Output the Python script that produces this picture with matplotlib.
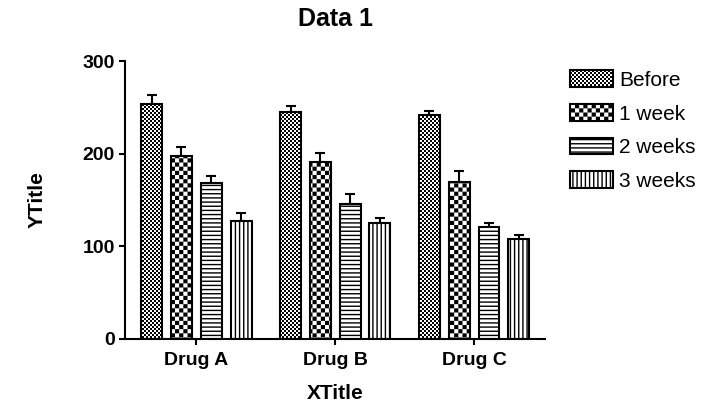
import numpy as np
import matplotlib
matplotlib.use('Agg')
import matplotlib.pyplot as plt
import matplotlib.hatch as mhatch
from matplotlib.path import Path

# data
groups = ['Drug A', 'Drug B', 'Drug C']
series = ['Before', '1 week', '2 weeks', '3 weeks']
before = [254, 245, 242]
week1 = [198, 191, 169]
week2 = [168, 146, 121]
week3 = [127, 125, 108]
before_err = [9, 6, 4]
week1_err = [9, 10, 12]
week2_err = [8, 10, 4]
week3_err = [9, 6, 4]

values = [before, week1, week2, week3]
errors = [before_err, week1_err, week2_err, week3_err]

# checkerboard hatches (matplotlib has none): fine = 'o.', coarse = 'O.'
CHECKERS = {'o.': 50, 'O.': 24}
_orig_get_path = mhatch.get_path


def checker_path(n):
    cell = 1.0 / n
    side = max(cell - 1.0 / 72, 0.002)   # stroke of hatch line adds ~1pt
    pad = (cell - side) / 2
    verts, codes = [], []
    for i in range(n):
        for j in range(n):
            if (i + j) % 2:
                continue
            x0, y0 = i * cell + pad, j * cell + pad
            verts += [(x0, y0), (x0 + side, y0), (x0 + side, y0 + side),
                      (x0, y0 + side), (x0, y0)]
            codes += [Path.MOVETO, Path.LINETO, Path.LINETO, Path.LINETO,
                      Path.CLOSEPOLY]
    return Path(verts, codes)


def get_path(pattern, density=6):
    if pattern in CHECKERS:
        return checker_path(CHECKERS[pattern])
    return _orig_get_path(pattern, density)


mhatch.get_path = get_path

plt.rcParams['font.family'] = ['Liberation Sans', 'DejaVu Sans']
plt.rcParams['hatch.linewidth'] = 1.0

hatches = ['o.', 'O.', '----', '||||']

fig = plt.figure(figsize=(7.11, 4.04), dpi=100)
ax = fig.add_axes([0.176, 0.161, 0.591, 0.688])

x = np.arange(len(groups))
width = 0.151
step = 0.2145
for i, (name, vals, errs) in enumerate(zip(series, values, errors)):
    pos = x + (i - 1.5) * step
    ax.bar(pos, vals, width, color='white', edgecolor='black', linewidth=1.5,
           hatch=hatches[i], label=name, zorder=2)
    ax.errorbar(pos, vals, yerr=[np.zeros(len(errs)), errs], fmt='none',
                ecolor='black', elinewidth=1.5, capsize=3.8, capthick=1.5,
                zorder=1)

ax.set_xlim(-0.513, 2.513)
ax.set_ylim(0, 300)
ax.set_yticks([0, 100, 200, 300])
ax.set_xticks(x)
ax.set_xticklabels(groups)
for s in ['top', 'right']:
    ax.spines[s].set_visible(False)
for s in ['left', 'bottom']:
    ax.spines[s].set_linewidth(1.5)
ax.tick_params(axis='both', direction='out', length=4.5, width=1.5,
               labelsize=14, pad=3)
ax.tick_params(axis='x', pad=5)
for lab in ax.get_xticklabels() + ax.get_yticklabels():
    lab.set_fontweight('bold')

ax.set_xlabel('XTitle', fontsize=15, fontweight='bold', labelpad=11)
ax.set_ylabel('YTitle', fontsize=15, fontweight='bold', labelpad=26)
ax.set_title('Data 1', fontsize=18, fontweight='bold', pad=25)

ax.legend(loc='upper left', bbox_to_anchor=(0.8017, 0.826),
          bbox_transform=fig.transFigure, frameon=False, fontsize=15,
          handlelength=2.07, handleheight=0.85, handletextpad=0.3,
          labelspacing=0.68, borderpad=0, borderaxespad=0)

fig.savefig('out.png', dpi=100)
